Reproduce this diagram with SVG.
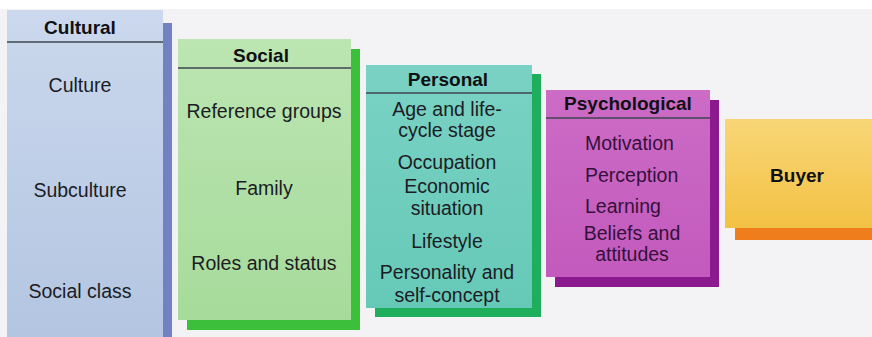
<svg xmlns="http://www.w3.org/2000/svg" width="872" height="337" viewBox="0 0 872 337">
<defs>
<linearGradient id="gCult" x1="0" y1="0" x2="0" y2="1"><stop offset="0" stop-color="#cbd8ed"/><stop offset="1" stop-color="#b3c5e1"/></linearGradient>
<linearGradient id="gSoc" x1="0" y1="0" x2="0" y2="1"><stop offset="0" stop-color="#bce5b2"/><stop offset="1" stop-color="#a6db9b"/></linearGradient>
<linearGradient id="gPers" x1="0" y1="0" x2="0" y2="1"><stop offset="0" stop-color="#7ad2c4"/><stop offset="1" stop-color="#66c9b8"/></linearGradient>
<linearGradient id="gPsy" x1="0" y1="0" x2="0" y2="1"><stop offset="0" stop-color="#cc6cc6"/><stop offset="1" stop-color="#c35abd"/></linearGradient>
<linearGradient id="gBuy" x1="0" y1="0" x2="0" y2="1"><stop offset="0" stop-color="#f8d677"/><stop offset="1" stop-color="#f3c143"/></linearGradient>
</defs>
<style>
.t{font-family:"Liberation Sans",Arial,Helvetica,sans-serif;font-size:19.5px;fill:#1c1c24}
.h{font-family:"Liberation Sans",Arial,Helvetica,sans-serif;font-size:19px;font-weight:bold;fill:#101014}
.c{text-anchor:middle}
.p{fill:#36103c}
.ln{stroke:#3e4650;stroke-width:1.6}
</style>
<rect x="0" y="0" width="872" height="337" fill="#f3f3f5"/>
<rect x="0" y="0" width="872" height="9" fill="#ffffff"/>
<g id="cultural">
<rect x="16" y="23" width="156" height="320" fill="#7181c1"/>
<rect x="7" y="10" width="156" height="330" fill="url(#gCult)"/>
<line class="ln" x1="7" y1="42" x2="163" y2="42"/>
<text class="h c" x="80" y="34">Cultural</text>
<text class="t c" x="80" y="92">Culture</text>
<text class="t c" x="80" y="197">Subculture</text>
<text class="t c" x="80" y="298">Social class</text>
</g>
<g id="social">
<rect x="187" y="49" width="173" height="281" fill="#3cbf3a"/>
<rect x="178" y="39" width="173" height="281" fill="url(#gSoc)"/>
<line class="ln" x1="178" y1="68" x2="351" y2="68"/>
<text class="h c" x="261" y="62">Social</text>
<text class="t c" x="264" y="118">Reference groups</text>
<text class="t c" x="264" y="195">Family</text>
<text class="t c" x="264" y="270">Roles and status</text>
</g>
<g id="personal">
<rect x="375" y="74" width="166" height="243" fill="#1fae5c"/>
<rect x="366" y="65" width="166" height="243" fill="url(#gPers)"/>
<line class="ln" x1="366" y1="93" x2="532" y2="93"/>
<text class="h c" x="448" y="86">Personal</text>
<text class="t c" x="447" y="116">Age and life-</text>
<text class="t c" x="447" y="137">cycle stage</text>
<text class="t c" x="447" y="169">Occupation</text>
<text class="t c" x="447" y="193">Economic</text>
<text class="t c" x="447" y="215">situation</text>
<text class="t c" x="447" y="248">Lifestyle</text>
<text class="t c" x="447" y="279">Personality and</text>
<text class="t c" x="447" y="302">self-concept</text>
</g>
<g id="psychological">
<rect x="555" y="100" width="164" height="187" fill="#8b1a8e"/>
<rect x="546" y="90" width="164" height="187" fill="url(#gPsy)"/>
<line class="ln" x1="546" y1="118" x2="710" y2="118" stroke="#4a1a50"/>
<text class="h c" x="628" y="110">Psychological</text>
<text class="t p" x="585" y="150">Motivation</text>
<text class="t p" x="585" y="182">Perception</text>
<text class="t p" x="585" y="213">Learning</text>
<text class="t p c" x="632" y="240">Beliefs and</text>
<text class="t p c" x="632" y="261">attitudes</text>
</g>
<g id="buyer">
<rect x="735" y="130" width="150" height="110" fill="#f07d1c"/>
<rect x="725" y="119" width="150" height="109" fill="url(#gBuy)"/>
<text class="h c" x="797" y="182">Buyer</text>
</g>
<g id="connectors"></g>
</svg>
